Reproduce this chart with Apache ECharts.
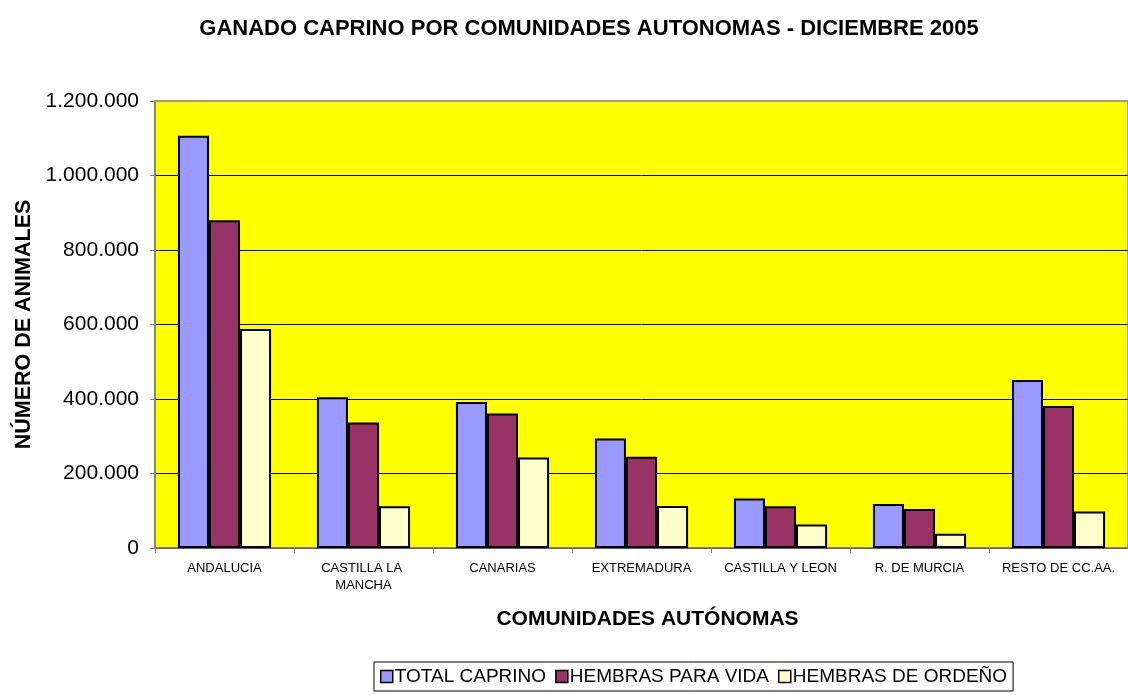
<!DOCTYPE html>
<html>
<head>
<meta charset="utf-8">
<script src="https://cdn.jsdelivr.net/npm/echarts@6/dist/echarts.min.js"></script>
<style>
  html, body { margin: 0; padding: 0; background: #fff; }
  #chart { width: 1128px; height: 695px; }
</style>
</head>
<body>
<div id="chart"></div>
<script>
const comunidades = ["ANDALUCIA", "CASTILLA LA MANCHA", "CANARIAS", "EXTREMADURA", "CASTILLA Y LEON", "R. DE MURCIA", "RESTO DE CC.AA."];
const totalCaprino = [1107000, 405000, 392000, 294000, 133000, 118000, 451000];
const hembrasVida = [880000, 337000, 361000, 245000, 112000, 105000, 381000];
const hembrasOrdeno = [588000, 112000, 243000, 113000, 63000, 38000, 98000];
const nombresSeries = ["TOTAL CAPRINO", "HEMBRAS PARA VIDA", "HEMBRAS DE ORDEÑO"];
const coloresSeries = ["#9999FF", "#993366", "#FFFFCC"];

const fuente = "'Liberation Sans', Arial, sans-serif";

// puntos como separador de miles
const formatoMiles = (v) => String(v).replace(/\B(?=(\d{3})+(?!\d))/g, ".");

const chart = echarts.init(document.getElementById("chart"));

const barra = (nombre, datos, color) => ({
  name: nombre,
  type: "bar",
  data: datos,
  barGap: "0%",
  barCategoryGap: "33%",
  itemStyle: { color: color, borderColor: "#000", borderWidth: 2 },
});

const option = {
  animation: false,
  textStyle: { fontFamily: fuente },
  title: {
    text: "GANADO CAPRINO POR COMUNIDADES AUTONOMAS - DICIEMBRE 2005",
    left: 584,
    textAlign: "center",
    top: 13,
    textStyle: { fontFamily: fuente, fontSize: 22, fontWeight: "bold", color: "#000" },
  },
  legend: {
    data: nombresSeries,
    left: 374,
    top: 662,
    icon: "rect",
    itemWidth: 12,
    itemHeight: 12,
    itemGap: 9,
    padding: [5, 6, 5, 6],
    borderColor: "#000",
    borderWidth: 1,
    itemStyle: { borderColor: "#000", borderWidth: 1.5 },
    textStyle: { fontFamily: fuente, fontSize: 19, color: "#000", padding: [0, 0, 0, -3] },
  },
  grid: {
    left: 155,
    right: -5,
    top: 101,
    bottom: 147,
    show: true,
    backgroundColor: "#FFFF00",
    borderColor: "#808080",
    borderWidth: 1.5,
  },
  xAxis: {
    type: "category",
    data: comunidades,
    name: "COMUNIDADES AUTÓNOMAS",
    nameLocation: "middle",
    nameGap: 61,
    nameTextStyle: { fontFamily: fuente, fontSize: 21, fontWeight: "bold", color: "#000", padding: [0, 0, 0, 12] },
    axisLine: { lineStyle: { color: "#808080", width: 1.5 } },
    axisTick: { show: true, length: 5, lineStyle: { color: "#808080" } },
    axisLabel: {
      interval: 0,
      fontSize: 13,
      color: "#000",
      margin: 12,
      width: 125,
      overflow: "break",
      lineHeight: 17,
    },
  },
  yAxis: {
    type: "value",
    min: 0,
    max: 1200000,
    interval: 200000,
    name: "NÚMERO DE ANIMALES",
    nameLocation: "middle",
    nameGap: 119,
    nameTextStyle: { fontFamily: fuente, fontSize: 21.5, fontWeight: "bold", color: "#000" },
    axisLine: { show: true, lineStyle: { color: "#808080", width: 1.5 } },
    axisTick: { show: true, length: 5, lineStyle: { color: "#808080" } },
    axisLabel: { fontSize: 21, color: "#000", margin: 16, formatter: formatoMiles },
    splitLine: { showMaxLine: false, lineStyle: { color: "#000", width: 1 } },
  },
  series: [
    barra(nombresSeries[0], totalCaprino, coloresSeries[0]),
    barra(nombresSeries[1], hembrasVida, coloresSeries[1]),
    barra(nombresSeries[2], hembrasOrdeno, coloresSeries[2]),
  ],
};

chart.setOption(option);
</script>
</body>
</html>
